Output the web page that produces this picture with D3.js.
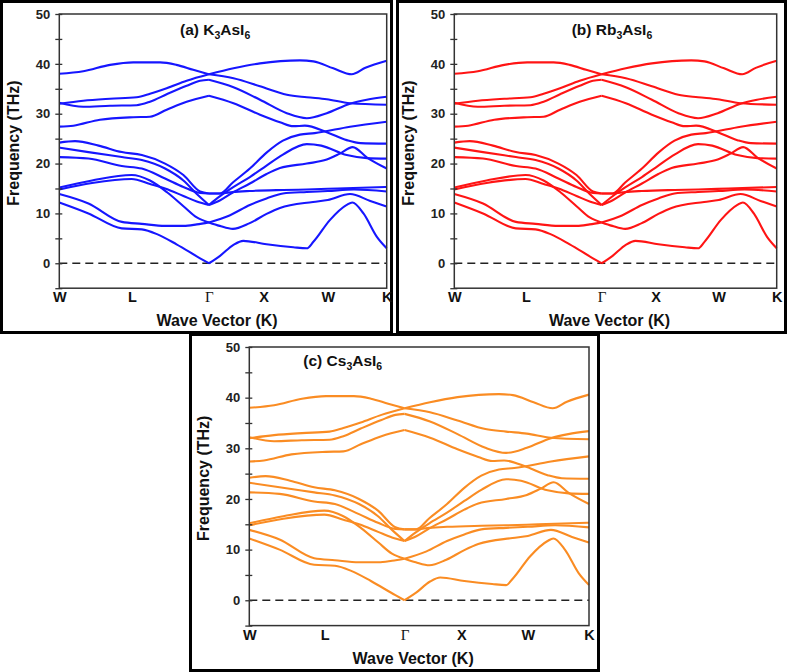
<!DOCTYPE html>
<html><head><meta charset="utf-8">
<script src="https://cdn.jsdelivr.net/npm/d3@7"></script>
<style>body{margin:0;background:#fff}svg{display:block}</style>
</head><body>
<svg id="chart" width="787" height="672"></svg>
<script>
// ---- data ----
const kLabels = ["W", "L", "Γ", "X", "W", "K"];
const kPositions = [0, 0.222, 0.457, 0.624, 0.82, 1];
const GAMMA = 0.457;
const yMajorTicks = [0, 10, 20, 30, 40, 50];
const yMinorTicks = [-5, 5, 15, 25, 35, 45];
const panelLetters = ["(a)", "(b)", "(c)"];
const cations = ["K", "Rb", "Cs"];

const band1 = [[0,38.0],[0.073,38.5],[0.155,39.8],[0.226,40.3],[0.308,40.3],[0.358,39.8],[0.409,38.8],[0.457,37.9],
  [0.532,37.1],[0.613,35.5],[0.695,33.8],[0.756,33.3],[0.817,32.9],[0.888,32.1],[1,31.8]];
const band2 = [[0,32.0],[0.073,32.6],[0.155,33.0],[0.236,33.3],[0.277,34.0],[0.328,35.1],[0.389,36.6],[0.457,37.9],
  [0.532,39.1],[0.613,40.1],[0.735,40.7],[0.776,40.5],[0.837,39.1],[0.893,37.9],[0.935,39.2],[1,40.6]];
const band3 = [[0,32.2],[0.073,31.4],[0.155,31.6],[0.236,31.7],[0.277,32.4],[0.328,33.9],[0.389,35.6],[0.43,36.6],[0.457,36.8],
  [0.532,35.3],[0.613,32.8],[0.695,30.1],[0.756,29.1],[0.817,30.1],[0.888,32.0],[0.939,32.8],[1,33.4]];
const band4 = [[0,27.4],[0.043,27.6],[0.124,28.8],[0.226,29.3],[0.277,29.4],[0.328,30.8],[0.389,32.4],[0.457,33.6],
  [0.532,32.1],[0.613,29.8],[0.674,28.3],[0.715,27.5],[0.75,27.6],[0.817,26.3],[0.878,24.7],[0.92,24.1],[1,24.0]];
const band5 = [[0,24.2],[0.048,24.5],[0.12,23.6],[0.191,22.3],[0.252,21.7],[0.323,20.0],[0.379,17.7],[0.43,14.4],[0.457,14.0],
  [0.491,14.0],[0.53,16.2],[0.582,19.0],[0.633,22.2],[0.683,24.6],[0.735,25.8],[0.78,26.1],[0.888,27.4],[1,28.4]];
const band6 = [[0,23.2],[0.089,22.3],[0.191,21.3],[0.252,20.7],[0.323,19.0],[0.379,16.6],[0.42,13.9],[0.457,11.7],
  [0.49,13.4],[0.53,15.2],[0.582,17.3],[0.633,19.6],[0.683,21.8],[0.756,23.9],[0.8,23.6],[0.878,21.7],[0.94,21.1],[1,21.0]];
const band7 = [[0,14.8],[0.1,16.1],[0.221,16.9],[0.277,15.9],[0.323,15.0],[0.379,13.5],[0.42,12.4],[0.457,11.7],
  [0.49,12.6],[0.53,14.2],[0.582,16.0],[0.633,17.9],[0.674,19.1],[0.756,20.0],[0.817,20.8],[0.857,22.0],[0.896,23.3],[0.94,21.2],[1,19.0]];
const band8 = [[0,21.3],[0.089,21.0],[0.191,19.5],[0.252,19.0],[0.323,17.0],[0.379,15.3],[0.43,14.1],[0.457,14.0],
  [0.491,14.0],[0.53,14.3],[0.582,14.5],[0.683,14.7],[0.756,14.8],[0.85,15.0],[1,15.3]];
const band9 = [[0,15.2],[0.1,16.6],[0.221,17.7],[0.277,16.6],[0.33,14.2],[0.38,11.4],[0.42,9.2],[0.457,8.2],
  [0.49,7.5],[0.53,6.9],[0.58,8.0],[0.633,9.9],[0.674,11.1],[0.775,12.3],[0.82,12.7],[0.888,13.9],[0.95,12.5],[1,11.4]];
const band10 = [[0,13.9],[0.089,12.0],[0.191,8.3],[0.252,7.9],[0.323,7.5],[0.38,7.5],[0.42,7.8],[0.457,8.2],
  [0.52,9.6],[0.582,11.7],[0.633,13.0],[0.683,14.0],[0.756,14.3],[0.82,14.5],[0.9,14.8],[1,14.4]];
const band11 = [[0,12.2],[0.089,10.0],[0.191,7.0],[0.252,6.8],[0.3,5.8],[0.358,3.8],[0.43,1.0],[0.457,0],
  [0.491,1.5],[0.532,3.7],[0.562,4.5],[0.633,3.8],[0.715,3.2],[0.756,3.0],[0.776,4.3],[0.827,8.7],[0.878,11.7],[0.895,12.2],[0.929,10.0],[0.97,5.3],[1,3.0]];
const bands = [band1, band2, band3, band4, band5, band6, band7, band8, band9, band10, band11];

// ---- layout / style ----
const panels = [
  {frame:{x:1.5,y:1.5,w:390,h:331}, plot:{l:59.3,r:386.7,t:14,b:288.2}, titleX:180, titleY:35, color:"#1616ff"},
  {frame:{x:397.5,y:1.5,w:388,h:331}, plot:{l:454.3,r:776.7,t:14,b:288.2}, titleX:571.7, titleY:35, color:"#ff1414"},
  {frame:{x:190.5,y:334.5,w:408,h:336}, plot:{l:249.3,r:589,t:347,b:625.6}, titleX:303.3, titleY:366, color:"#fa8c23"}
];
const FONT = "Liberation Sans, Arial, Helvetica, sans-serif";

const svg = d3.select("#chart");
svg.append("rect").attr("width",787).attr("height",672).attr("fill","#fff");

panels.forEach((p, i) => {
  const g = svg.append("g");
  g.append("rect").attr("x",p.frame.x).attr("y",p.frame.y).attr("width",p.frame.w).attr("height",p.frame.h)
    .attr("fill","none").attr("stroke","#000").attr("stroke-width",3);

  const x = d3.scaleLinear().domain([0,1]).range([p.plot.l, p.plot.r]);
  const y = d3.scaleLinear().domain([-5,50]).range([p.plot.b, p.plot.t]);

  g.append("line").attr("x1",x(0)).attr("x2",x(1)).attr("y1",y(0)).attr("y2",y(0))
    .attr("stroke","#222").attr("stroke-width",1.6).attr("stroke-dasharray","8,5");

  const line = d3.line().x(d => x(d[0])).y(d => y(d[1])).curve(d3.curveMonotoneX);
  bands.forEach(b => {
    const left = b.filter(d => d[0] <= GAMMA);
    const right = b.filter(d => d[0] >= GAMMA);
    [left, right].forEach(seg => {
      g.append("path").attr("d", line(seg)).attr("fill","none")
        .attr("stroke", p.color).attr("stroke-width", 2.1).attr("stroke-linejoin","round");
    });
  });

  g.append("rect").attr("x",p.plot.l).attr("y",p.plot.t).attr("width",p.plot.r-p.plot.l).attr("height",p.plot.b-p.plot.t)
    .attr("fill","none").attr("stroke","#333").attr("stroke-width",1.5);

  // y axis
  const ax = g.append("g").attr("transform",`translate(${p.plot.l},0)`)
    .call(d3.axisLeft(y).tickValues(yMajorTicks).tickSize(4).tickPadding(5));
  ax.select(".domain").remove();
  ax.selectAll(".tick line").attr("x1",3).attr("stroke","#333").attr("stroke-width",1.3);
  ax.selectAll(".tick text").attr("font-family",FONT).attr("font-weight","bold").attr("font-size",13).attr("fill","#222");
  const axm = g.append("g").attr("transform",`translate(${p.plot.l},0)`)
    .call(d3.axisLeft(y).tickValues(yMinorTicks).tickSize(4).tickFormat(""));
  axm.select(".domain").remove();
  axm.selectAll(".tick line").attr("x1",3).attr("stroke","#333").attr("stroke-width",1.3);

  // x axis
  const bx = g.append("g").attr("transform",`translate(0,${p.plot.b})`)
    .call(d3.axisBottom(x).tickValues(kPositions).tickSize(0).tickFormat((d, j) => kLabels[j]));
  bx.select(".domain").remove();
  bx.selectAll(".tick text").attr("y",14).attr("dy",0)
    .attr("font-family",(d, j) => kLabels[j] === "Γ" ? "Liberation Serif, Times New Roman, serif" : FONT)
    .attr("font-weight",(d, j) => kLabels[j] === "Γ" ? "normal" : "bold")
    .attr("font-size",(d, j) => kLabels[j] === "Γ" ? 15 : 14.5).attr("fill","#111");

  // axis titles
  g.append("text").attr("x",(p.plot.l+p.plot.r)/2 - 6).attr("y",p.plot.b + 38)
    .attr("text-anchor","middle").attr("font-family",FONT).attr("font-weight","bold").attr("font-size",16).attr("fill","#111")
    .text("Wave Vector (K)");
  g.append("text").attr("transform",`translate(${p.plot.l - 46},${(p.plot.t+p.plot.b)/2 - 8}) rotate(-90)`)
    .attr("dy","0.35em").attr("text-anchor","middle").attr("font-family",FONT).attr("font-weight","bold").attr("font-size",16).attr("fill","#111")
    .text("Frequency (THz)");

  // panel title
  const t = g.append("text").attr("x",p.titleX).attr("y",p.titleY)
    .attr("font-family",FONT).attr("font-weight","bold").attr("font-size",15.5).attr("fill","#111");
  t.append("tspan").text(panelLetters[i] + " " + cations[i]);
  t.append("tspan").attr("font-size",10.5).attr("dy",4).text("3");
  t.append("tspan").attr("dy",-4).text("AsI");
  t.append("tspan").attr("font-size",10.5).attr("dy",4).text("6");
});
</script>
</body></html>
